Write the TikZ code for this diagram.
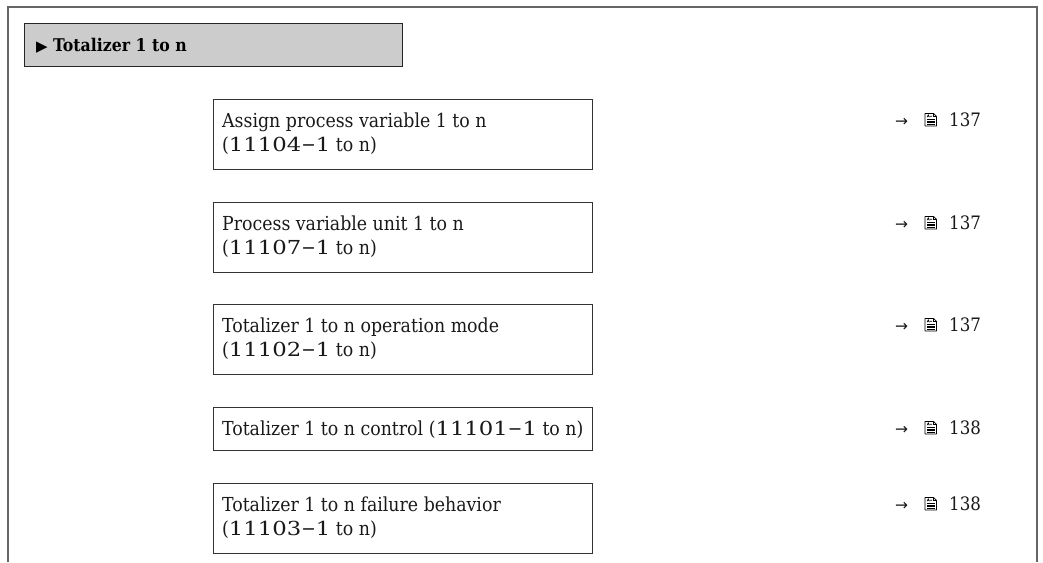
\documentclass[tikz,border=0pt]{standalone}
\usepackage{graphicx}
\usepackage{fontspec}
\setmainfont{DejaVu Serif Condensed}
\newfontfamily\symfont{DejaVu Sans}
\newfontfamily\widedig{DejaVu Serif}
\newcommand\pnum[1]{\scalebox{1.18}[1]{\widedig #1}}
\tikzset{
  x=1pt,y=-1pt,
  frameline/.style={draw=black!60, line width=1.4pt},
  header/.style={draw=black!85, fill=black!20, line width=0.8pt},
  itembox/.style={draw=black!80, line width=0.8pt, anchor=north west,
    minimum width=379pt, minimum height=70pt, inner sep=0pt},
  itemtext/.style={anchor=north west, inner sep=0pt, align=left,
    font=\fontsize{19.3}{24}\selectfont, text=black!90},
  reftext/.style={anchor=base west, inner sep=0pt, font=\fontsize{18.5}{20}\selectfont, text=black!90},
  refarrow/.style={anchor=base west, inner sep=0pt, font=\symfont\fontsize{15.5}{20}\selectfont, text=black!90},
  doc/.pic={
    \draw[line width=0.7pt, line join=round] (0,0) -- (0,-12.5) -- (8.5,-12.5) -- (11.5,-9.5) -- (11.5,0) -- cycle;
    \draw[line width=0.5pt] (8.5,-12.5) -- (8.5,-9.5) -- (11.5,-9.5);
    \draw[line width=0.6pt] (2,-8.8) -- (3.2,-11.2) -- (4.4,-8.8) (2.6,-9.8) -- (3.8,-9.8) (5,-9.8) -- (7.2,-9.8);
    \foreach \yy in {-6.8,-5,-3.3,-1.6} \draw[line width=0.6pt] (2,\yy) -- (9.5,\yy);
  }
}
\newcommand\refto[3]{%
  \node[refarrow] (#1a) at (895,#2) {→};
  \pic at (925,#2) {doc};
  \node[reftext] (#1n) at (949,#2) {#3};
}
\newcommand\paramitem[4]{%
  \node[itembox,#4] (#1) at (213,#2) {};
  \node[itemtext] (#1t) at (222,#2+11.2) {\strut#3};
}
\begin{document}
\begin{tikzpicture}
\useasboundingbox (0,0) rectangle (1043,562);
\draw[frameline] (8,562) -- (8,7) -- (1037,7) -- (1037,562);
\node[header, anchor=north west, minimum width=378pt, minimum height=43pt, inner sep=0pt] (hdr) at (24,23) {};
\node[anchor=base west, inner sep=0pt, font=\fontsize{17.5}{20}\selectfont\bfseries] (hdrt) at (36,51) {{\symfont\fontsize{15}{18}\selectfont ▶}\ Totalizer 1 to n};

\paramitem{b1}{99}{Assign process variable 1 to n\\(\pnum{11104}−\pnum{1} to n)}{}
\paramitem{b2}{202}{Process variable unit 1 to n\\(\pnum{11107}−\pnum{1} to n)}{}
\paramitem{b3}{304}{Totalizer 1 to n operation mode\\(\pnum{11102}−\pnum{1} to n)}{}
\paramitem{b4}{407}{Totalizer 1 to n control (\pnum{11101}−\pnum{1} to n)}{minimum height=43pt}
\paramitem{b5}{483}{Totalizer 1 to n failure behavior\\(\pnum{11103}−\pnum{1} to n)}{}

\refto{r1}{126}{137}
\refto{r2}{229}{137}
\refto{r3}{331}{137}
\refto{r4}{434}{138}
\refto{r5}{510}{138}
\end{tikzpicture}
\end{document}
